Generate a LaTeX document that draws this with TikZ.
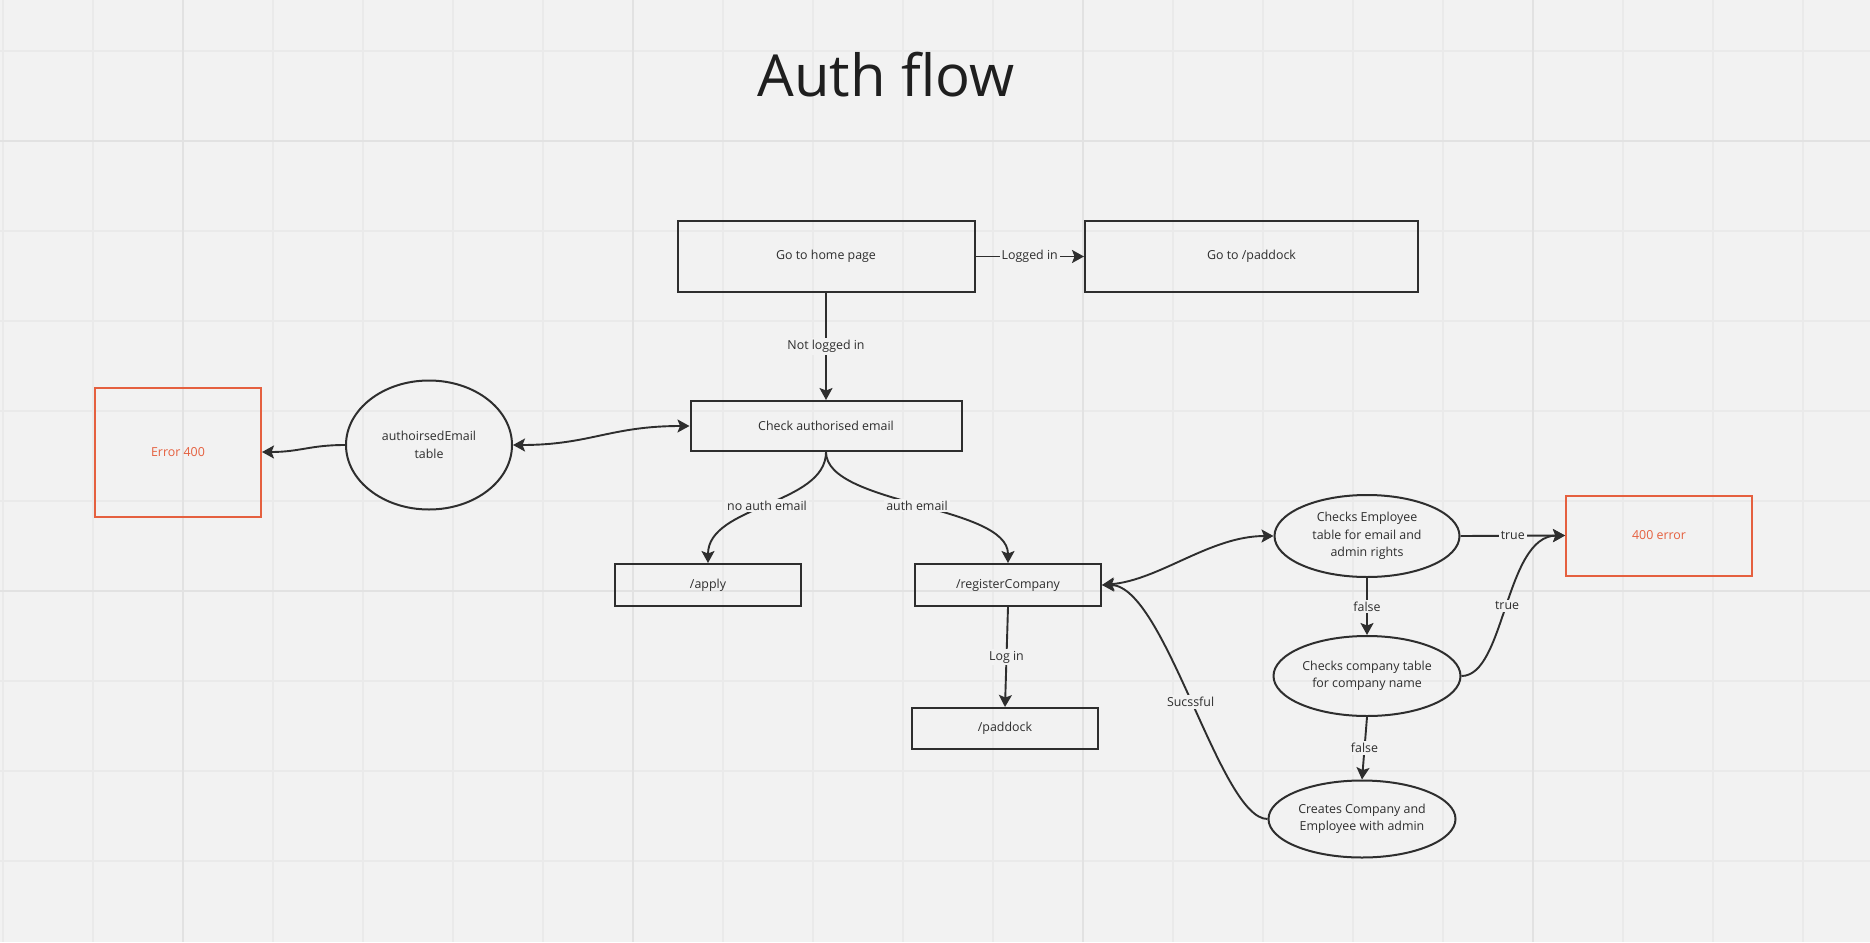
\documentclass[tikz,border=0pt]{standalone}
\usepackage{fontspec}
\setmainfont{Open Sans}
\usetikzlibrary{shapes.geometric,arrows.meta}
\definecolor{canvas}{HTML}{F2F2F2}
\definecolor{gridminor}{HTML}{EAEAEA}
\definecolor{gridmajor}{HTML}{E2E2E2}
\definecolor{ink}{HTML}{2E2E2E}
\definecolor{alert}{HTML}{E5603F}
\begin{document}
\begin{tikzpicture}[x=1pt,y=-1pt,
  >={Stealth[length=12pt,width=13pt,inset=2.5pt]},
  txt/.style={font=\fontsize{12.4}{17.5}\selectfont, text=ink, align=center},
  box/.style={txt, draw=ink, line width=2pt, rectangle, inner sep=0pt},
  errbox/.style={box, draw=alert, text=alert},
  oval/.style={txt, draw=ink, line width=2pt, ellipse, inner sep=0pt},
  link/.style={draw=ink, line width=1.9pt, ->},
  lbl/.style={txt, fill=canvas, inner sep=2pt}]

% canvas with grid
\useasboundingbox (0,0) rectangle (1870,942);
\fill[canvas] (0,0) rectangle (1870,942);
\foreach \x in {3,93,...,1863} \draw[gridminor, line width=1.3pt] (\x,0) -- (\x,942);
\foreach \y in {51,141,...,861} \draw[gridminor, line width=1.3pt] (0,\y) -- (1870,\y);
\foreach \x in {183,633,1083,1533} \draw[gridmajor, line width=2pt] (\x,0) -- (\x,942);
\foreach \y in {141,591} \draw[gridmajor, line width=2pt] (0,\y) -- (1870,\y);

% title
\node[font=\fontsize{58}{60}\selectfont, text=black!88, anchor=base] (title) at (886,96) {Auth flow};

% nodes
\node[box, minimum width=297pt, minimum height=71pt] (home) at (826,256.5) {Go to home page};
\node[box, minimum width=333pt, minimum height=71pt] (padA) at (1251.5,256.5) {Go to /paddock};
\node[box, minimum width=271pt, minimum height=50pt] (chk) at (826,426) {Check authorised email};
\node[errbox, minimum width=166pt, minimum height=129pt] (err1) at (178,452) {Error 400};
\node[oval, minimum width=166pt, minimum height=129pt] (tbl) at (429,445) {authoirsedEmail\\table};
\node[box, minimum width=186pt, minimum height=42pt] (apply) at (708,585) {/apply};
\node[box, minimum width=186pt, minimum height=42pt] (reg) at (1008,585) {/registerCompany};
\node[box, minimum width=186pt, minimum height=41pt] (padB) at (1005,728.5) {/paddock};
\node[oval, minimum width=185pt, minimum height=82pt] (emp) at (1367,536) {Checks Employee\\table for email and\\admin rights};
\node[errbox, minimum width=186pt, minimum height=80pt] (err2) at (1659,535.5) {400 error};
\node[oval, minimum width=187pt, minimum height=80pt] (cmp) at (1367,676) {Checks company table\\for company name};
\node[oval, minimum width=187pt, minimum height=77pt] (crt) at (1362,819) {Creates Company and\\Employee with admin};

% connectors
\draw[link] (home.south) -- node[lbl]{Not logged in} (chk.north);
\draw[link] (home.east) -- node[lbl]{Logged in} (padA.west);
\draw[link,<->] (tbl.east) .. controls (590,445) and (610,426) .. (chk.west);
\draw[link] (tbl.west) .. controls (310,445) and (300,452) .. (err1.east);
\draw[link] (chk.south) .. controls (826,505) and (708,505) .. node[lbl]{no auth email} (apply.north);
\draw[link] (chk.south) .. controls (826,505) and (1008,505) .. node[lbl]{auth email} (reg.north);
\draw[link] (reg.south) -- node[lbl]{Log in} (padB.north);
\draw[link,<->] (reg.east) .. controls (1160,580) and (1210,536) .. (emp.west);
\draw[link] (emp.east) -- node[lbl]{true} (err2.west);
\draw[link] (emp.south) -- node[lbl]{false} (cmp.north);
\draw[link] (cmp.east) .. controls (1505,676) and (1505,536) .. node[lbl]{true} (err2.west);
\draw[link] (cmp.south) -- node[lbl]{false} (crt.north);
\draw[link] (crt.west) .. controls (1220,819) and (1165,585) .. node[lbl]{Sucssful} (reg.east);
\end{tikzpicture}
\end{document}
